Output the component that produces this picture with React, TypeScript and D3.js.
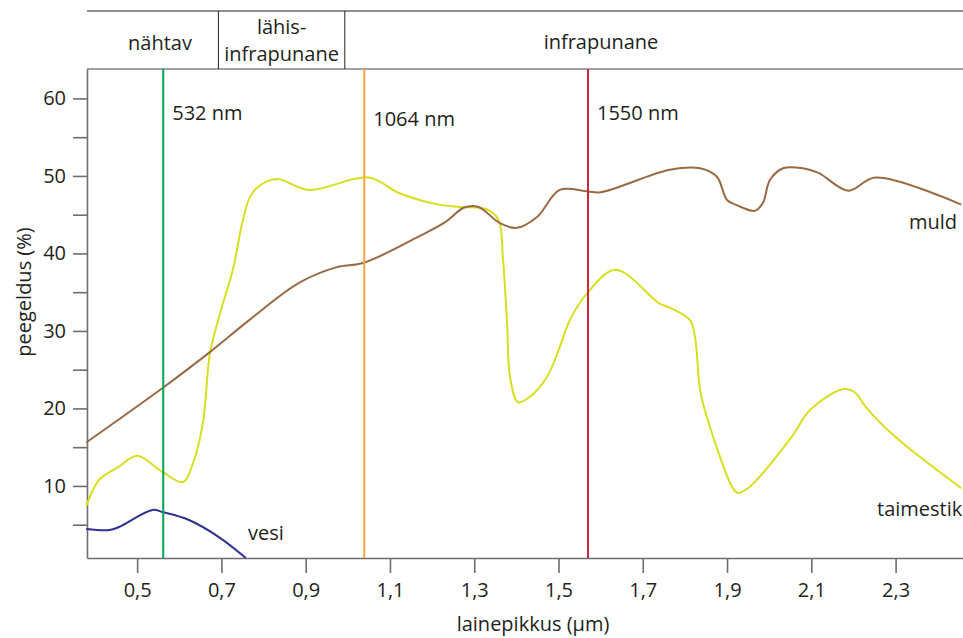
import React, { useEffect, useRef } from "react";
import * as d3 from "d3";

// reflectance curves, [wavelength µm, reflectance %]
const soil: [number, number][] = [
  [0.379, 15.6], [0.562, 22.7], [0.671, 27.2], [0.766, 31.4], [0.884, 36.2],
  [0.972, 38.2], [1.038, 38.8], [1.169, 42.2], [1.233, 44.1], [1.275, 45.9],
  [1.31, 46.0], [1.361, 43.9], [1.401, 43.3], [1.449, 44.7], [1.503, 48.2],
  [1.57, 48.0], [1.6, 47.9], [1.764, 50.8], [1.836, 51.0], [1.876, 49.9],
  [1.9, 46.9], [1.924, 46.2], [1.966, 45.5], [1.985, 46.5], [2.002, 49.5],
  [2.033, 51.0], [2.08, 51.0], [2.117, 50.4], [2.188, 48.1], [2.252, 49.8],
  [2.456, 46.3]
];

const vegetation: [number, number][] = [
  [0.379, 7.4], [0.41, 10.8], [0.457, 12.5], [0.5, 13.9], [0.56, 11.8],
  [0.609, 10.5], [0.633, 13.0], [0.656, 18.1], [0.673, 27.2], [0.697, 32.3],
  [0.727, 37.9], [0.751, 44.3], [0.768, 47.3], [0.792, 48.8], [0.832, 49.6],
  [0.908, 48.2], [1.05, 49.8], [1.121, 47.8], [1.216, 46.3], [1.266, 46.0],
  [1.33, 45.7], [1.358, 44.3], [1.368, 39.5], [1.378, 31.0], [1.385, 24.1],
  [1.404, 20.8], [1.432, 21.5], [1.473, 24.1], [1.503, 27.9], [1.527, 31.4],
  [1.57, 35.0], [1.636, 37.9], [1.738, 33.6], [1.764, 33.0], [1.812, 31.4],
  [1.824, 29.2], [1.836, 22.4], [1.852, 18.9], [1.914, 9.7], [1.926, 9.1],
  [1.954, 9.9], [2.053, 16.3], [2.097, 19.8], [2.177, 22.5], [2.205, 22.0],
  [2.229, 20.2], [2.3, 16.3], [2.456, 9.7]
];

const water: [number, number][] = [
  [0.379, 4.45], [0.434, 4.3], [0.457, 4.7], [0.536, 6.9], [0.562, 6.6],
  [0.623, 5.6], [0.694, 3.4], [0.758, 0.7]
];

const laserLines = [
  { x: 0.562, label: "532 nm", color: "#00a651", dy: 0 },
  { x: 1.039, label: "1064 nm", color: "#f7a541", dy: 6 },
  { x: 1.57, label: "1550 nm", color: "#c8283c", dy: 0 }
];

// spectral bands shown in the header row
const bandEdges = [0.7, 1.0];
const xTicks = [0.5, 0.7, 0.9, 1.1, 1.3, 1.5, 1.7, 1.9, 2.1, 2.3];
const yTicks = [5, 10, 15, 20, 25, 30, 35, 40, 45, 50, 55, 60];

const FONT = "'Open Sans', sans-serif";

function App() {
  const svgRef = useRef<SVGSVGElement>(null);

  useEffect(() => {
    const svg = d3.select(svgRef.current);
    svg.selectAll("*").remove();

    const left = 87, right = 963, top = 69, bottom = 558, bandTop = 11;

    const x = d3.scaleLinear().domain([0.381, 2.46]).range([left, right]);
    const y = d3.scaleLinear().domain([0.7, 63.8]).range([bottom, top]);

    // header band
    const band = svg.append("g");
    band.append("line")
      .attr("x1", left).attr("x2", right).attr("y1", bandTop).attr("y2", bandTop)
      .attr("stroke", "#231f20").attr("stroke-width", 1.2);
    band.append("line")
      .attr("x1", left).attr("x2", right).attr("y1", top).attr("y2", top)
      .attr("stroke", "#808285").attr("stroke-width", 1.5);
    bandEdges.forEach(v => {
      band.append("line")
        .attr("x1", x(v) - 3).attr("x2", x(v) - 3).attr("y1", bandTop).attr("y2", top)
        .attr("stroke", "#231f20").attr("stroke-width", 1);
    });
    const bandText = (tx: number, ty: number, s: string) =>
      band.append("text").attr("x", tx).attr("y", ty).attr("text-anchor", "middle")
        .attr("font-family", FONT).attr("font-size", 20).attr("fill", "#231f20").text(s);
    bandText(160, 50, "nähtav");
    bandText((x(0.7) + x(1.0)) / 2 - 3, 34, "lähis-");
    bandText((x(0.7) + x(1.0)) / 2 - 3, 61, "infrapunane");
    bandText(601, 49, "infrapunane");

    // axes
    const xAxis = d3.axisBottom(x)
      .tickValues(xTicks)
      .tickSize(15)
      .tickSizeOuter(0)
      .tickPadding(10)
      .tickFormat(d => String(d).replace(".", ","));
    const gx = svg.append("g").attr("transform", `translate(0,${bottom})`).call(xAxis);

    const yAxis = d3.axisLeft(y)
      .tickValues(yTicks)
      .tickSize(14)
      .tickSizeOuter(0)
      .tickPadding(7)
      .tickFormat(d => (+d % 10 === 0 ? String(d) : ""));
    const gy = svg.append("g").attr("transform", `translate(${left},0)`).call(yAxis);

    [gx, gy].forEach(g => {
      g.select(".domain").attr("stroke", "#6d6e71").attr("stroke-width", 1.6);
      g.selectAll(".tick line").attr("stroke", "#6d6e71").attr("stroke-width", 1.6);
      g.selectAll(".tick text")
        .attr("font-family", FONT).attr("font-size", 20).attr("fill", "#231f20");
    });

    svg.append("text")
      .attr("x", 533).attr("y", 631).attr("text-anchor", "middle")
      .attr("font-family", FONT).attr("font-size", 20).attr("fill", "#231f20")
      .text("lainepikkus (µm)");
    svg.append("text")
      .attr("transform", "translate(31,292) rotate(-90)").attr("text-anchor", "middle")
      .attr("font-family", FONT).attr("font-size", 20).attr("fill", "#231f20")
      .text("peegeldus (%)");

    // curves
    const line = d3.line<[number, number]>()
      .x(d => x(d[0]))
      .y(d => y(d[1]))
      .curve(d3.curveCatmullRom.alpha(0.5));

    const curves = svg.append("g").attr("fill", "none").attr("stroke-width", 2);
    curves.append("path").attr("d", line(vegetation)).attr("stroke", "#d7df23");
    curves.append("path").attr("d", line(soil)).attr("stroke", "#9a6a44");
    curves.append("path").attr("d", line(water)).attr("stroke", "#2e3192");

    // laser wavelengths
    laserLines.forEach(l => {
      svg.append("line")
        .attr("x1", x(l.x)).attr("x2", x(l.x)).attr("y1", top).attr("y2", bottom)
        .attr("stroke", l.color).attr("stroke-width", 2);
      svg.append("text")
        .attr("x", x(l.x) + 9).attr("y", 120 + l.dy)
        .attr("font-family", FONT).attr("font-size", 20).attr("fill", "#231f20")
        .text(l.label);
    });

    const label = (tx: number, ty: number, s: string) =>
      svg.append("text").attr("x", tx).attr("y", ty)
        .attr("font-family", FONT).attr("font-size", 20).attr("fill", "#231f20").text(s);
    label(248, 540, "vesi");
    label(909, 229, "muld");
    label(877, 516, "taimestik");
  }, []);

  return (
    <svg
      ref={svgRef}
      width={963}
      height={638}
      style={{ position: "absolute", left: 0, top: 0, background: "#fff" }}
    />
  );
}

export default App;
